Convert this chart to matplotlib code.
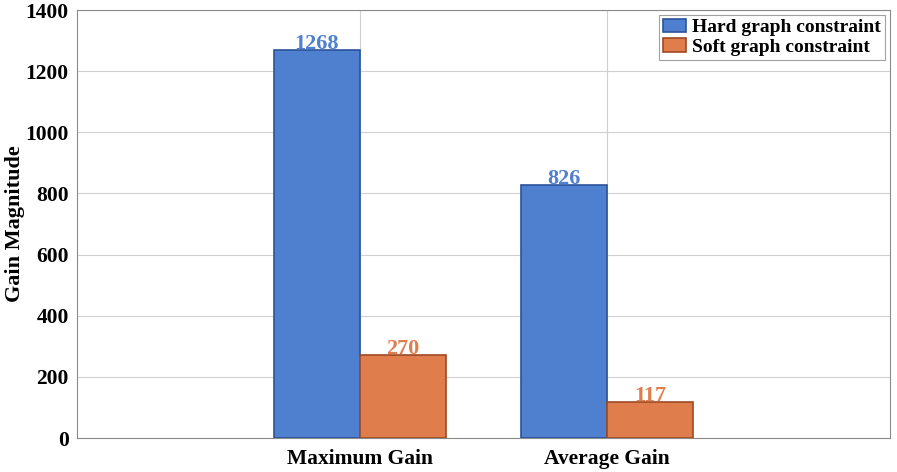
import numpy as np
import matplotlib.pyplot as plt

plt.rcParams['font.family'] = ['Liberation Serif', 'DejaVu Serif']
plt.rcParams['font.weight'] = 'bold'

categories = ['Maximum Gain', 'Average Gain']
hard = [1268, 826]
soft = [270, 117]
series_names = ['Hard graph constraint', 'Soft graph constraint']

blue = '#4f7fcf'
blue_edge = '#2b539a'
orange = '#e07d4c'
orange_edge = '#9e4a22'

fig = plt.figure(figsize=(8.97, 4.72), dpi=100)
ax = fig.add_axes([77/897, 1 - 438/472, (890-77)/897, (438-10)/472])

x = np.arange(1, len(categories) + 1)
w = 0.35
b1 = ax.bar(x - w/2, hard, w, color=blue, edgecolor=blue_edge, linewidth=1.2,
            label=series_names[0], zorder=3)
b2 = ax.bar(x + w/2, soft, w, color=orange, edgecolor=orange_edge, linewidth=1.2,
            label=series_names[1], zorder=3)

for bars, col in [(b1, blue), (b2, orange)]:
    for r in bars:
        ax.text(r.get_x() + r.get_width()/2, r.get_height() - 12, str(int(r.get_height())),
                ha='center', va='bottom', color=col, fontsize=16, fontweight='bold', zorder=4)

ax.set_xlim(1 - 1.146, 2 + 1.146)
ax.set_ylim(0, 1400)
ax.set_xticks(x)
ax.set_xticklabels(categories)
ax.set_yticks(np.arange(0, 1401, 200))
ax.tick_params(axis='both', labelsize=15.5, direction='in', length=0)
ax.tick_params(axis='x', pad=8)
ax.tick_params(axis='y', pad=6)
ax.grid(True, color='#d0d0d0', linewidth=0.8, zorder=0)
ax.set_ylabel('Gain Magnitude', fontsize=16, fontweight='bold')
ax.yaxis.set_label_coords(-(77 - 25) / (890 - 77), 0.5)
for s in ax.spines.values():
    s.set_color('#8a8a8a')
    s.set_linewidth(0.8)

leg = ax.legend(loc='upper right', fontsize=14, frameon=True, fancybox=False,
                edgecolor='#8a8a8a', borderpad=0.2, handlelength=1.15, handleheight=0.7,
                handletextpad=0.35, labelspacing=0.1, borderaxespad=0.25)
leg.get_frame().set_linewidth(0.8)

fig.savefig('out.png', dpi=100)
